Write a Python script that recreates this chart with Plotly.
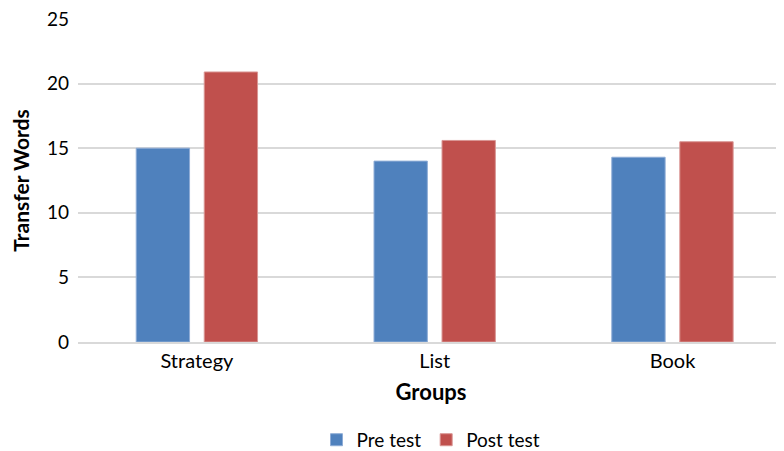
import plotly.graph_objects as go

categories = ["Strategy", "List", "Book"]
pre_test = [15.0, 14.0, 14.3]
post_test = [20.9, 15.6, 15.5]
y_ticks = [0, 5, 10, 15, 20, 25]

FONT = "Lato, 'Open Sans', sans-serif"

fig = go.Figure()
fig.add_trace(go.Bar(name="Pre test", x=categories, y=pre_test,
                     marker=dict(color="#4F81BD", line=dict(color="#8EACD6", width=1))))
fig.add_trace(go.Bar(name="Post test", x=categories, y=post_test,
                     marker=dict(color="#C0504D", line=dict(color="#D99593", width=1))))

fig.update_layout(
    width=776, height=459,
    margin=dict(l=70, r=0, t=11, b=125),
    paper_bgcolor="white", plot_bgcolor="white",
    barmode="group", bargap=0.428, bargroupgap=0.216,
    font=dict(family=FONT, size=20, color="#000000"),
    showlegend=True,
    legend=dict(orientation="h", x=0.5, xanchor="center", y=-0.303, yanchor="middle",
                font=dict(size=19), itemwidth=30, traceorder="normal"),
    xaxis=dict(range=[-0.5, 2.469], showgrid=False, showline=True, linecolor="#D9D9D9",
               linewidth=1.5, ticks="", tickfont=dict(size=20), automargin=False,
               ticklabeloverflow="allow",
               title=dict(text="<b>Groups</b>", font=dict(size=22), standoff=14)),
    yaxis=dict(range=[0, 25], tickvals=y_ticks, showgrid=True, gridcolor="#D9D9D9",
               gridwidth=1.5, zeroline=False, showline=False, ticks="",
               ticklabelstandoff=8, tickfont=dict(size=19), automargin=False,
               ticklabeloverflow="allow",
               title=dict(text="<b>Transfer Words</b>", font=dict(size=21), standoff=15)),
)

fig.write_html("out.html")
